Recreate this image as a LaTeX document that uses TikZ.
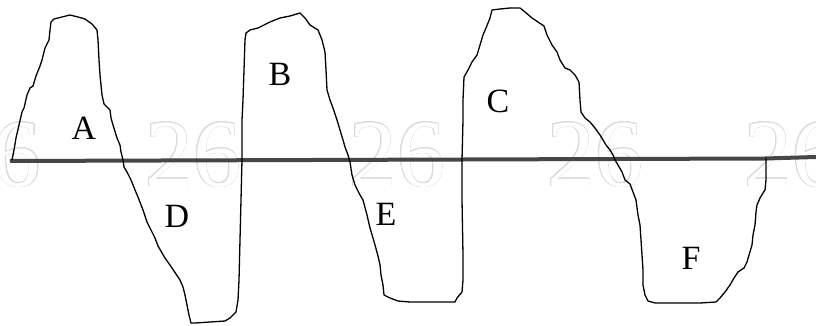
\documentclass[tikz,border=0pt]{standalone}
\usepackage{fontspec}
\setmainfont{Liberation Serif}
\usepackage[copies]{contour}
\contourlength{0.6pt}
\begin{document}
\begin{tikzpicture}[x=1pt,y=-1pt,
  wm/.style={inner sep=0pt,font=\fontsize{96}{96}\selectfont},
  curve/.style={line width=1.3pt,black,line join=round},
  axisline/.style={line width=4pt,draw={rgb,255:red,70;green,70;blue,70}},
  lab/.style={inner sep=0pt,font=\fontsize{34}{34}\selectfont}]
\useasboundingbox[fill=white] (0,0) rectangle (816,326);
\begin{scope}
\clip (0,0) rectangle (816,326);
\node[wm] (w0) at (-7,155) {\contour{gray!28}{\textcolor{white}{26}}};
\node[wm] (w1) at (193,155) {\contour{gray!28}{\textcolor{white}{26}}};
\node[wm] (w2) at (397,155) {\contour{gray!28}{\textcolor{white}{26}}};
\node[wm] (w3) at (595,155) {\contour{gray!28}{\textcolor{white}{26}}};
\node[wm] (w4) at (792,155) {\contour{gray!28}{\textcolor{white}{26}}};
\end{scope}
\coordinate (l0) at (10,161);
\coordinate (l1) at (765,158.5);
\coordinate (l2) at (816,157);
\draw[axisline] (l0) -- (l1) -- (l2);
\draw[curve] (12,160) -- (14,150) -- (16,138) -- (19,125) -- (22,112) -- (24,108) -- (27,95) -- (30,88) -- (33,86) -- (36,76) -- (40,66) -- (42,60) -- (45,48) -- (47,44) -- (49,40) -- (50,30) -- (51,22) -- (54,19) -- (62,17) -- (70,15) -- (78,17) -- (85,19) -- (92,24) -- (97,30) -- (98,40) -- (99,60) -- (100,75) -- (102,95) -- (104,104) -- (110,110) -- (111,118) -- (113,125) -- (117,138) -- (120,145) -- (121,152) -- (123,160) -- (124,167) -- (127,172) -- (131,180) -- (135,190) -- (138,197) -- (143,210) -- (147,222) -- (150,228) -- (155,238) -- (158,246) -- (165,258) -- (172,268) -- (180,280) -- (183,287) -- (185,295) -- (187,305) -- (189,315) -- (191,323) -- (195,323) -- (210,322) -- (225,321) -- (230,318) -- (236,312) -- (238,300) -- (239,280) -- (240,240) -- (241,200) -- (242,160) -- (242,120) -- (243,100) -- (245,40) -- (246,33) -- (250,30) -- (258,28) -- (262,26) -- (270,22) -- (280,18) -- (290,16) -- (300,13) -- (305,18) -- (310,25) -- (318,30) -- (322,40) -- (325,52) -- (326,70) -- (327,90) -- (330,100) -- (333,108) -- (337,120) -- (340,130) -- (343,140) -- (345,147) -- (348,155) -- (350,162) -- (352,175) -- (355,185) -- (360,195) -- (363,200) -- (367,215) -- (370,228) -- (373,238) -- (375,245) -- (378,256) -- (380,265) -- (381,275) -- (383,285) -- (384,295) -- (390,298) -- (398,301) -- (410,302) -- (455,302) -- (457,298) -- (462,292) -- (463,280) -- (463,255) -- (462,200) -- (462,160) -- (463,120) -- (463,100) -- (464,77) -- (468,70) -- (472,62) -- (477,55) -- (480,45) -- (483,35) -- (486,28) -- (490,18) -- (492,10) -- (500,9) -- (510,8) -- (520,8) -- (525,12) -- (532,18) -- (538,22) -- (544,26) -- (547,35) -- (552,45) -- (557,52) -- (560,60) -- (565,68) -- (570,70) -- (575,75) -- (579,82) -- (580,100) -- (581,112) -- (585,118) -- (590,122) -- (595,128) -- (600,135) -- (603,140) -- (606,145) -- (610,150) -- (613,155) -- (615,160) -- (618,165) -- (622,172) -- (625,180) -- (630,184) -- (633,192) -- (636,200) -- (638,215) -- (640,225) -- (641,240) -- (642,255) -- (643,270) -- (643,285) -- (645,295) -- (648,301) -- (655,303) -- (700,303) -- (716,302) -- (720,298) -- (725,292) -- (730,285) -- (734,278) -- (738,272) -- (744,268) -- (747,262) -- (749,255) -- (752,245) -- (753,235) -- (755,225) -- (756,212) -- (757,205) -- (760,198) -- (763,193) -- (765,190) -- (766,180) -- (766,165) -- (766,158);
\node[lab] (A) at (84,128) {A};
\node[lab] (B) at (280,74) {B};
\node[lab] (C) at (498,101) {C};
\node[lab] (D) at (177,216) {D};
\node[lab] (E) at (386,214) {E};
\node[lab] (F) at (691,258) {F};
\end{tikzpicture}
\end{document}
